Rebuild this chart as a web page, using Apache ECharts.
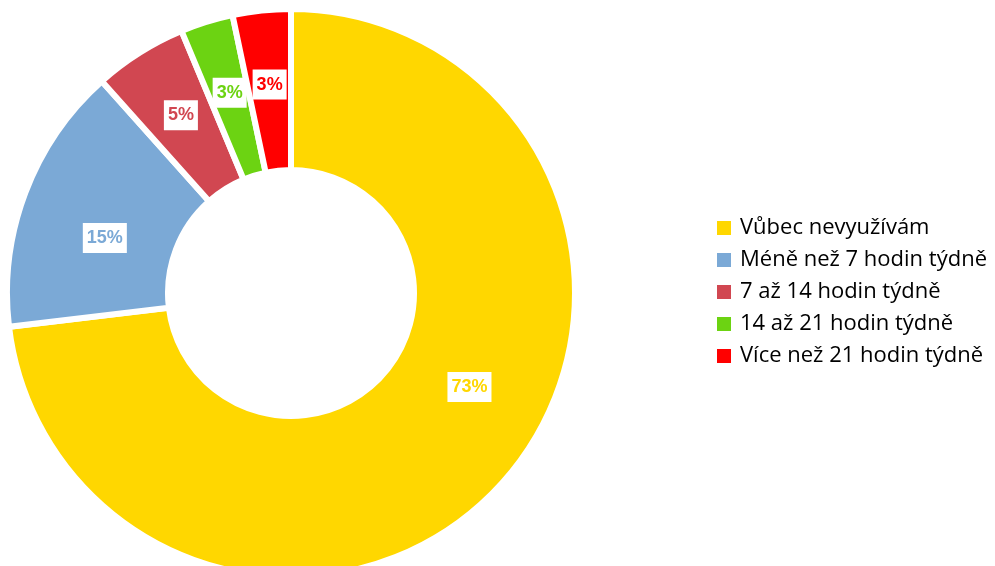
<!DOCTYPE html>
<html>
<head>
<meta charset="utf-8">
<script src="https://cdn.jsdelivr.net/npm/echarts@6/dist/echarts.min.js"></script>
<style>html,body{margin:0;padding:0;background:#fff}#c{width:995px;height:566px}</style>
</head>
<body>
<div id="c"></div>
<script>
const categories = ['Vůbec nevyužívám', 'Méně než 7 hodin týdně', '7 až 14 hodin týdně', '14 až 21 hodin týdně', 'Více než 21 hodin týdně'];
const values = [73.1, 15.3, 5.3, 3.0, 3.3];
const labels = ['73%', '15%', '5%', '3%', '3%'];
const colors = ['#FFD700', '#7BA9D6', '#D14751', '#6CD312', '#FF0000'];
const labelOffsets = [[24, -43], [7, 18], [0, -3], [0, -3], [0, -3]];

const chart = echarts.init(document.getElementById('c'), null, {renderer: 'canvas'});
chart.setOption({
  animation: false,
  backgroundColor: '#fff',
  legend: {
    orient: 'vertical',
    left: 710,
    top: 212,
    itemWidth: 16,
    itemHeight: 16,
    itemGap: 10,
    icon: 'rect',
    textStyle: {fontFamily: 'Open Sans', fontSize: 22, lineHeight: 22, color: '#000', padding: [0, 0, 0, 3]},
    data: categories
  },
  series: [{
    type: 'pie',
    center: [291, 293],
    radius: [123, 284],
    startAngle: 90,
    clockwise: true,
    avoidLabelOverlap: false,
    itemStyle: {borderColor: '#fff', borderWidth: 6, borderJoin: 'miter'},
    label: {
      show: true,
      position: 'inside',
      backgroundColor: '#fff',
      padding: [6, 4, 6, 4],
      lineHeight: 18,
      fontFamily: 'Liberation Sans',
      fontWeight: 'bold',
      fontSize: 18,
      formatter: p => labels[p.dataIndex]
    },
    labelLine: {show: false},
    emphasis: {disabled: true},
    data: categories.map((c, i) => ({
      name: c,
      value: values[i],
      itemStyle: {color: colors[i]},
      label: {color: colors[i], offset: labelOffsets[i]}
    }))
  }]
});
</script>
</body>
</html>
